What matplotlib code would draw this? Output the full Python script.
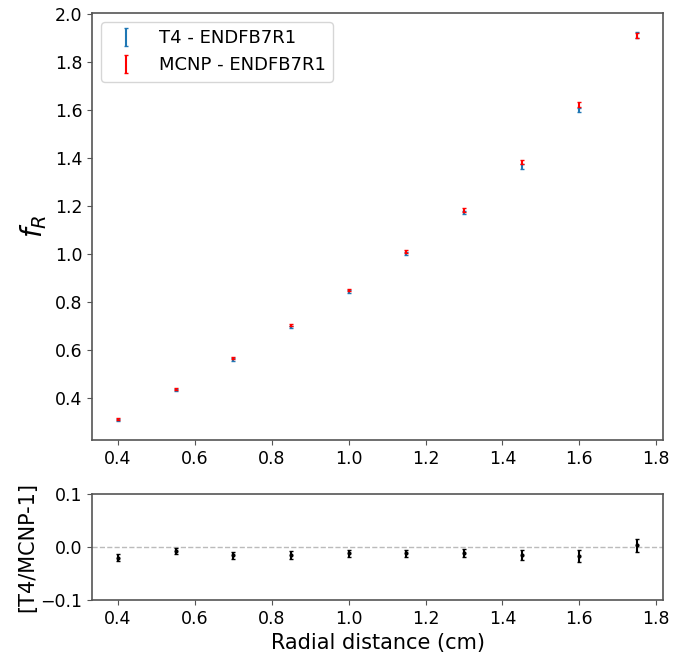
import matplotlib
matplotlib.use("Agg")
import matplotlib.pyplot as plt
import numpy as np

radius = [0.4, 0.55, 0.7, 0.85, 1.0, 1.15, 1.3, 1.45, 1.6, 1.75]
t4_fr = [0.310, 0.435, 0.560, 0.695, 0.843, 1.003, 1.173, 1.365, 1.600, 1.912]
t4_err = [0.004, 0.004, 0.005, 0.005, 0.006, 0.007, 0.008, 0.009, 0.010, 0.011]
mcnp_fr = [0.314, 0.438, 0.567, 0.703, 0.850, 1.010, 1.183, 1.383, 1.622, 1.910]
mcnp_err = [0.004, 0.004, 0.005, 0.005, 0.006, 0.007, 0.008, 0.009, 0.010, 0.011]
ratio = [-0.020, -0.007, -0.016, -0.015, -0.012, -0.012, -0.011, -0.015, -0.017, 0.003]
ratio_err = [0.007, 0.006, 0.007, 0.007, 0.007, 0.007, 0.008, 0.010, 0.011, 0.012]

spine_col = '#555555'

fig = plt.figure(figsize=(6.86, 6.57), dpi=100)
ax1 = fig.add_axes([0.1341, 0.3303, 0.8324, 0.6499])
ax2 = fig.add_axes([0.1341, 0.0868, 0.8324, 0.1613])

ax1.errorbar(radius, t4_fr, yerr=t4_err, fmt='none', ecolor='tab:blue',
             elinewidth=1.5, capsize=1.5, label='T4 - ENDFB7R1')
ax1.errorbar(radius, mcnp_fr, yerr=mcnp_err, fmt='none', ecolor='red',
             elinewidth=1.5, capsize=1.5, label='MCNP - ENDFB7R1')
ax1.set_ylabel('$f_R$', fontsize=20)
ax1.tick_params(labelsize=12.5, color=spine_col)
ax1.set_yticks([0.4, 0.6, 0.8, 1.0, 1.2, 1.4, 1.6, 1.8, 2.0])
ax1.set_xticks([0.4, 0.6, 0.8, 1.0, 1.2, 1.4, 1.6, 1.8])
ax1.legend(loc='upper left', fontsize=13)

ax2.errorbar(radius, ratio, yerr=ratio_err, fmt='.', color='black',
             markersize=4, elinewidth=1.5, capsize=1.5)
ax2.axhline(0.0, color='#bbbbbb', linestyle='--', linewidth=1, zorder=0)
ax2.set_ylim(-0.1, 0.1)
ax2.set_xlim(ax1.get_xlim())
ax2.set_yticks([-0.1, 0.0, 0.1])
ax2.set_xticks([0.4, 0.6, 0.8, 1.0, 1.2, 1.4, 1.6, 1.8])
ax2.tick_params(labelsize=12.5, color=spine_col)
ax2.set_xlabel('Radial distance (cm)', fontsize=15)
ax2.set_ylabel('[T4/MCNP-1]', fontsize=15)
ax2.yaxis.set_label_coords(-0.095, 0.5)

for ax in (ax1, ax2):
    for s in ax.spines.values():
        s.set_color(spine_col)
        s.set_linewidth(1.2)

fig.savefig('out.png', dpi=100)
